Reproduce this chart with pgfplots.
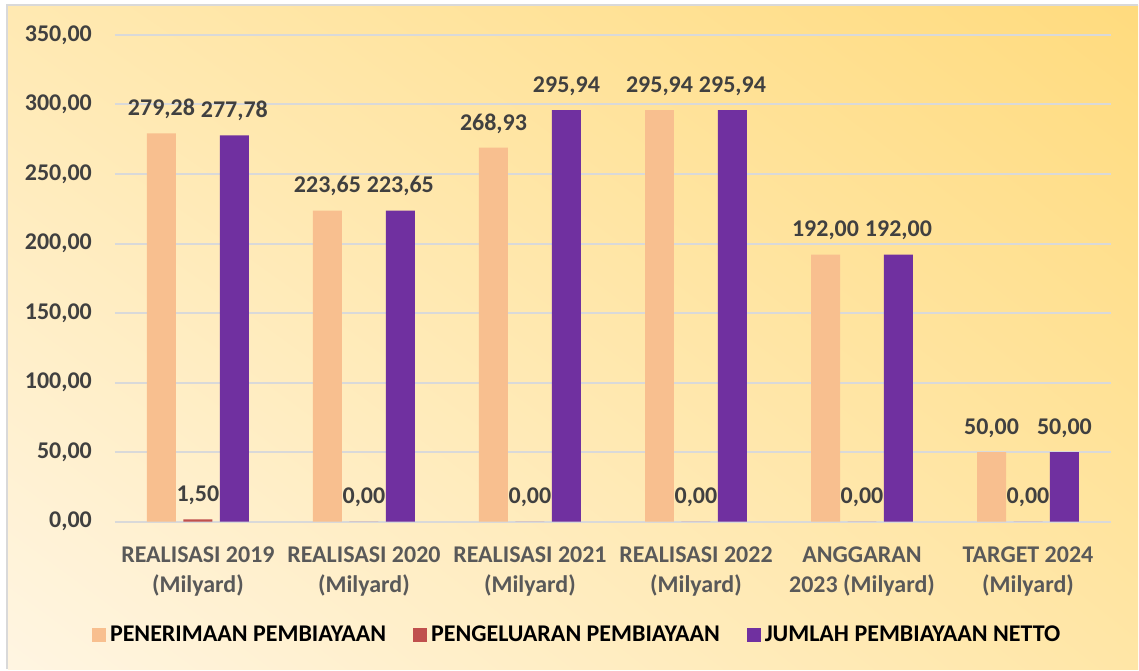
\documentclass[border=0pt]{standalone}
\usepackage{pgfplots}
\pgfplotsset{compat=1.18}
\usetikzlibrary{shadings}
\usepackage{fontspec}
\setmainfont{Carlito}
\definecolor{peach}{HTML}{F8BF8F}
\definecolor{redb}{HTML}{C0504D}
\definecolor{purp}{HTML}{7030A0}
\definecolor{txt}{HTML}{404040}
\definecolor{cat}{HTML}{595959}
\definecolor{gridc}{HTML}{D9D9D9}
\definecolor{bgll}{HTML}{FFF5E2}
\definecolor{bgur}{HTML}{FFDB7E}
\definecolor{bgul}{HTML}{FFE9B2}
\definecolor{bglr}{HTML}{FFE6A6}
\pgfkeys{/pgf/number format/.cd, fixed, fixed zerofill, precision=2, use comma, 1000 sep={}, assume math mode=true}
\begin{document}
\begin{tikzpicture}
\fill[white] (0,0) rectangle (569.5pt,335pt);
\shade[lower left=bgll, upper right=bgur, upper left=bgul, lower right=bglr] (4pt,0) rectangle (569.5pt,332pt);
\draw[gridc, line width=1pt] (3.5pt,0) -- (3.5pt,332.5pt) -- (569.5pt,332.5pt);
\begin{axis}[
  at={(57.5pt,74pt)}, anchor=south west, scale only axis,
  width=498.5pt, height=243.5pt,
  ymin=0, ymax=350, ytick={0,50,...,350},
  xmin=-0.5, xmax=5.5, xtick={0,...,5},
  xticklabels={{REALISASI 2019\\(Milyard)},{REALISASI 2020\\(Milyard)},{REALISASI 2021\\(Milyard)},{REALISASI 2022\\(Milyard)},{ANGGARAN\\2023 (Milyard)},{TARGET 2024\\(Milyard)}},
  axis line style={draw=none},
  major tick length=0pt, tick style={draw=none},
  ymajorgrids, grid style={gridc, line width=1pt},
  yticklabel style={font=\fontsize{12}{14}\selectfont\bfseries, color=txt, xshift=-8pt},
  xticklabel style={align=center, font=\fontsize{12}{15}\selectfont\bfseries, color=cat, yshift=-9pt},
  ybar, bar width=14.5pt,
  nodes near coords,
  every node near coord/.append style={font=\fontsize{12}{14}\selectfont\bfseries, color=txt, anchor=south, inner sep=0pt, yshift=7pt},
  legend columns=3,
  legend style={draw=none, fill=none, at={(0.465,-0.234)}, anchor=center,
    font=\fontsize{12}{14}\selectfont\bfseries, text=black,
    /tikz/every even column/.append style={column sep=11.5pt}},
]
\addplot[fill=peach, draw=none, bar shift=-18.25pt,
  legend image code/.code={\fill[peach] (0pt,-3.5pt) rectangle (7pt,3.5pt);}]
  coordinates {(0,279.28) (1,223.65) (2,268.93) (3,295.94) (4,192.00) (5,50.00)};
\addlegendentry{PENERIMAAN PEMBIAYAAN}
\addplot[fill=redb, draw=none, bar shift=0pt,
  legend image code/.code={\fill[redb] (0pt,-3.5pt) rectangle (7pt,3.5pt);}]
  coordinates {(0,1.50) (1,0) (2,0) (3,0) (4,0) (5,0)};
\addlegendentry{PENGELUARAN PEMBIAYAAN}
\addplot[fill=purp, draw=none, bar shift=18.25pt,
  legend image code/.code={\fill[purp] (0pt,-3.5pt) rectangle (7pt,3.5pt);}]
  coordinates {(0,277.78) (1,223.65) (2,295.94) (3,295.94) (4,192.00) (5,50.00)};
\addlegendentry{JUMLAH PEMBIAYAAN NETTO}
\end{axis}
\end{tikzpicture}
\end{document}
